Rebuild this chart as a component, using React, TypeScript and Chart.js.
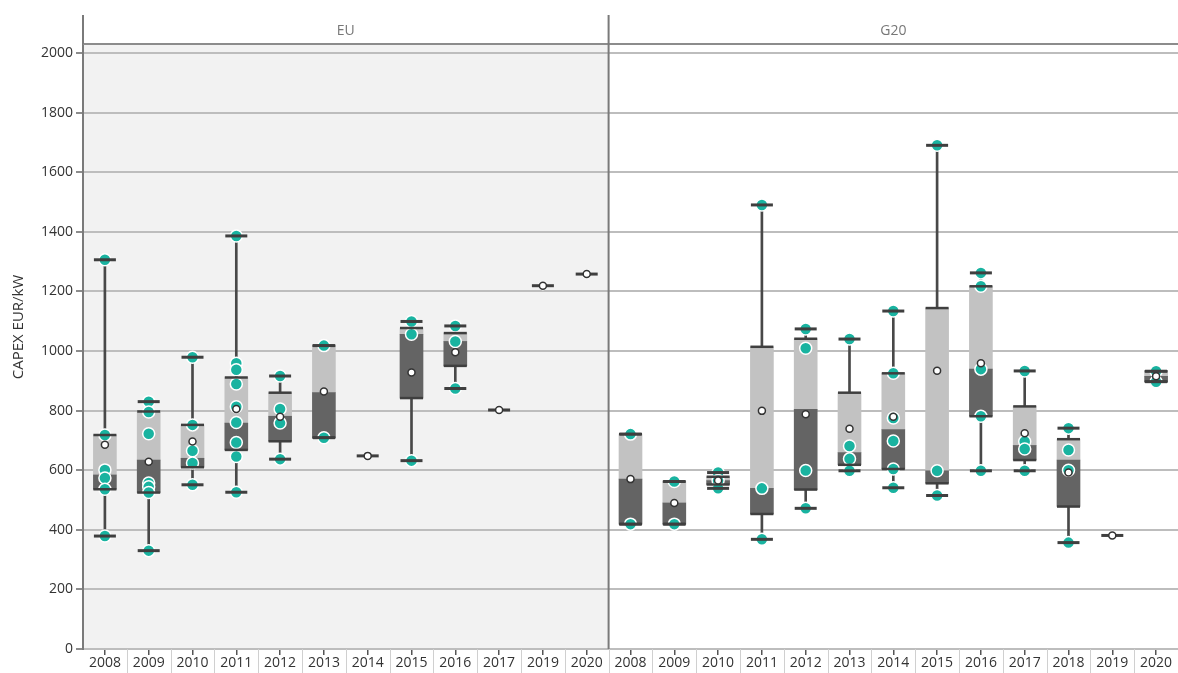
import React, { useEffect, useRef } from 'react';
import { Chart, registerables } from 'chart.js';

Chart.register(...registerables);

// ---------- data ----------
const euYears = ['2008', '2009', '2010', '2011', '2012', '2013', '2014', '2015', '2016', '2017', '2019', '2020'];
const euMin = [379, 330, 551, 526, 637, 709, 648, 632, 874, 802, 1219, 1258];
const euQ1 = [536, 525, 610, 668, 697, 709, 648, 842, 950, 802, 1219, 1258];
const euMedian = [584, 634, 640, 758, 781, 860, 648, 1056, 1032, 802, 1219, 1258];
const euQ3 = [718, 797, 752, 911, 860, 1018, 648, 1077, 1060, 802, 1219, 1258];
const euMax = [1306, 830, 979, 1386, 916, 1018, 648, 1099, 1084, 802, 1219, 1258];
const euMean = [685, 628, 696, 805, 779, 864, 648, 928, 996, 802, 1219, 1258];
const euPoints = [
  [1306, 718, 601, 574, 536, 379],
  [830, 795, 722, 557, 544, 525, 330],
  [979, 752, 665, 624, 551],
  [1386, 959, 937, 889, 813, 760, 693, 646, 526],
  [916, 805, 758, 637],
  [1018, 709],
  [648],
  [1099, 1056, 632],
  [1084, 1032, 874],
  [802],
  [1219],
  [1258],
];

const g20Years = ['2008', '2009', '2010', '2011', '2012', '2013', '2014', '2015', '2016', '2017', '2018', '2019', '2020'];
const g20Min = [419, 419, 539, 368, 472, 598, 541, 515, 598, 598, 357, 381, 897];
const g20Q1 = [419, 419, 552, 453, 535, 618, 604, 556, 781, 634, 478, 381, 897];
const g20Median = [570, 490, 565, 539, 804, 659, 736, 598, 939, 683, 634, 381, 915];
const g20Q3 = [721, 562, 578, 1014, 1041, 860, 925, 1144, 1217, 814, 704, 381, 932];
const g20Max = [721, 562, 592, 1490, 1074, 1040, 1134, 1690, 1262, 933, 741, 381, 932];
const g20Mean = [570, 490, 565, 799, 788, 739, 779, 934, 959, 724, 592, 381, 915];
const g20Points = [
  [721, 419],
  [562, 419],
  [592, 565, 539],
  [1490, 539, 368],
  [1074, 1009, 599, 472],
  [1040, 681, 638, 598],
  [1134, 925, 775, 698, 604, 541],
  [1690, 598, 515],
  [1262, 1217, 939, 781, 598],
  [933, 696, 671, 598],
  [741, 668, 600, 357],
  [381],
  [932, 897],
];

const panelTitles = ['EU', 'G20'];
const yTickValues = [0, 200, 400, 600, 800, 1000, 1200, 1400, 1600, 1800, 2000];
const yMax = 2030;
const yTitle = 'CAPEX EUR/kW';

const FONT = "'Open Sans', 'Noto Sans', sans-serif";
const TEAL = '#19b3a0';
const DARK = '#3f3f3f';
const BOX_DARK = '#646464';
const BOX_LIGHT = '#c2c2c2';

export default function App() {
  const ref = useRef<HTMLCanvasElement>(null);

  useEffect(() => {
    const canvas = ref.current;
    if (!canvas) return;

    const labels = [...euYears.map((y) => 'EU ' + y), ...g20Years.map((y) => 'G20 ' + y)];
    const allMin = [...euMin, ...g20Min];
    const allQ1 = [...euQ1, ...g20Q1];
    const allMed = [...euMedian, ...g20Median];
    const allQ3 = [...euQ3, ...g20Q3];
    const allMax = [...euMax, ...g20Max];
    const allMean = [...euMean, ...g20Mean];
    const allPts = [...euPoints, ...g20Points];
    const isBox = (i: number) => allQ3[i] > allQ1[i];
    const single = (i: number) => allMax[i] === allMin[i];

    const pointData: { x: string; y: number }[] = [];
    allPts.forEach((arr, i) => arr.forEach((v) => pointData.push({ x: labels[i], y: v })));
    const capData: { x: string; y: number }[] = [];
    allMin.forEach((v, i) => {
      capData.push({ x: labels[i], y: v });
      if (allMax[i] !== v) capData.push({ x: labels[i], y: allMax[i] });
    });
    const edgeData: { x: string; y: number }[] = [];
    allQ1.forEach((v, i) => {
      if (isBox(i)) {
        edgeData.push({ x: labels[i], y: v });
        edgeData.push({ x: labels[i], y: allQ3[i] });
      }
    });

    const panelPlugin = {
      id: 'panels',
      beforeDraw(chart: any) {
        const { ctx, chartArea, scales } = chart;
        const x = scales.x;
        const divX = (x.getPixelForValue(euYears.length - 1) + x.getPixelForValue(euYears.length)) / 2;
        ctx.save();
        ctx.fillStyle = '#f2f2f2';
        ctx.fillRect(chartArea.left, chartArea.top, divX - chartArea.left, chartArea.bottom - chartArea.top);
        ctx.restore();
      },
      beforeDatasetsDraw(chart: any) {
        const { ctx, chartArea, scales } = chart;
        const x = scales.x;
        const n = labels.length;
        const divX = (x.getPixelForValue(euYears.length - 1) + x.getPixelForValue(euYears.length)) / 2;
        ctx.save();
        // category separators in label row
        ctx.strokeStyle = '#d0d0d0';
        ctx.lineWidth = 1;
        for (let i = 0; i < n - 1; i++) {
          const bx = Math.round((x.getPixelForValue(i) + x.getPixelForValue(i + 1)) / 2) + 0.5;
          ctx.beginPath();
          ctx.moveTo(bx, chartArea.bottom);
          ctx.lineTo(bx, chart.height);
          ctx.stroke();
        }
        // header line
        ctx.strokeStyle = '#8c8c8c';
        ctx.lineWidth = 2;
        ctx.beginPath();
        ctx.moveTo(chartArea.left, chartArea.top);
        ctx.lineTo(chartArea.right, chartArea.top);
        ctx.stroke();
        // vertical extensions + divider
        ctx.strokeStyle = '#7a7a7a';
        ctx.lineWidth = 2;
        ctx.beginPath();
        ctx.moveTo(chartArea.left, 15);
        ctx.lineTo(chartArea.left, chartArea.top);
        ctx.moveTo(divX, 15);
        ctx.lineTo(divX, chartArea.bottom);
        ctx.stroke();
        // panel titles
        ctx.fillStyle = '#777777';
        ctx.font = `14px ${FONT}`;
        ctx.textAlign = 'center';
        ctx.textBaseline = 'middle';
        ctx.fillText(panelTitles[0], (chartArea.left + divX) / 2, 31);
        ctx.fillText(panelTitles[1], (divX + chartArea.right) / 2, 31);
        // y title
        ctx.fillStyle = '#333333';
        ctx.font = `15px ${FONT}`;
        ctx.translate(19, 327);
        ctx.rotate(-Math.PI / 2);
        ctx.fillText(yTitle, 0, 0);
        ctx.restore();
      },
    };

    const chart = new Chart(canvas, {
      type: 'bar',
      data: {
        labels,
        datasets: [
          {
            type: 'bar',
            data: allMin.map((v, i) => (single(i) ? null : [v, allMax[i]])) as any,
            backgroundColor: '#484848',
            barThickness: 2,
            grouped: false,
            order: 10,
          },
          {
            type: 'bar',
            data: allQ1.map((v, i) => (isBox(i) ? [v, allMed[i]] : null)) as any,
            backgroundColor: BOX_DARK,
            barThickness: 23,
            grouped: false,
            order: 9,
          },
          {
            type: 'bar',
            data: allMed.map((v, i) => (isBox(i) ? [v, allQ3[i]] : null)) as any,
            backgroundColor: BOX_LIGHT,
            barThickness: 23,
            grouped: false,
            order: 9,
          },
          {
            type: 'line',
            data: pointData as any,
            showLine: false,
            pointStyle: 'circle',
            pointRadius: (ctx: any) => {
              const idx = labels.indexOf(ctx.raw?.x);
              return idx >= 0 && single(idx) ? 4 : 6;
            },
            pointBackgroundColor: TEAL,
            pointBorderColor: '#ffffff',
            pointBorderWidth: 1.5,
            order: 5,
          },
          {
            type: 'line',
            data: edgeData as any,
            showLine: false,
            pointStyle: 'line',
            pointRadius: 11.5,
            pointBorderColor: DARK,
            pointBorderWidth: 2.5,
            order: 4,
          },
          {
            type: 'line',
            data: capData as any,
            showLine: false,
            pointStyle: 'line',
            pointRadius: 11,
            pointBorderColor: DARK,
            pointBorderWidth: 3,
            order: 3,
          },
          {
            type: 'line',
            data: allMean as any,
            showLine: false,
            pointStyle: 'circle',
            pointRadius: 3.5,
            pointBackgroundColor: '#ffffff',
            pointBorderColor: '#333333',
            pointBorderWidth: 1.5,
            order: 1,
          },
        ] as any,
      },
      options: {
        responsive: false,
        animation: false,
        events: [],
        layout: { autoPadding: false, padding: { left: 0, top: 44, right: 0, bottom: 0 } },
        plugins: {
          legend: { display: false },
          tooltip: { enabled: false },
        },
        scales: {
          x: {
            type: 'category',
            offset: true,
            grid: {
              display: true,
              drawOnChartArea: false,
              offset: false,
              tickLength: 6,
              color: '#555555',
              lineWidth: 1.5,
            },
            border: { display: false },
            ticks: {
              autoSkip: false,
              maxRotation: 0,
              color: '#333333',
              padding: 0,
              font: { family: FONT, size: 14 },
              callback: function (this: any, value: any) {
                return String(this.getLabelForValue(value)).split(' ')[1];
              },
            },
            afterFit: (s: any) => {
              s.height = 24;
            },
          },
          y: {
            min: 0,
            max: yMax,
            afterBuildTicks: (s: any) => {
              s.ticks = yTickValues.map((v) => ({ value: v }));
            },
            ticks: {
              autoSkip: false,
              color: '#333333',
              padding: 3,
              font: { family: FONT, size: 14 },
              callback: (v: any) => String(v),
            },
            grid: {
              color: '#bdbdbd',
              lineWidth: 2,
              tickLength: 7,
              tickColor: '#666666',
              tickWidth: 1.5,
            },
            border: { color: '#7a7a7a', width: 2 },
            afterFit: (s: any) => {
              s.width = 83;
            },
          },
        },
      } as any,
      plugins: [panelPlugin],
    });

    return () => chart.destroy();
  }, []);

  return (
    <div style={{ position: 'fixed', left: 0, top: 0, width: 1178, height: 673, background: '#ffffff' }}>
      <canvas ref={ref} width={1178} height={673} style={{ display: 'block' }} />
    </div>
  );
}
